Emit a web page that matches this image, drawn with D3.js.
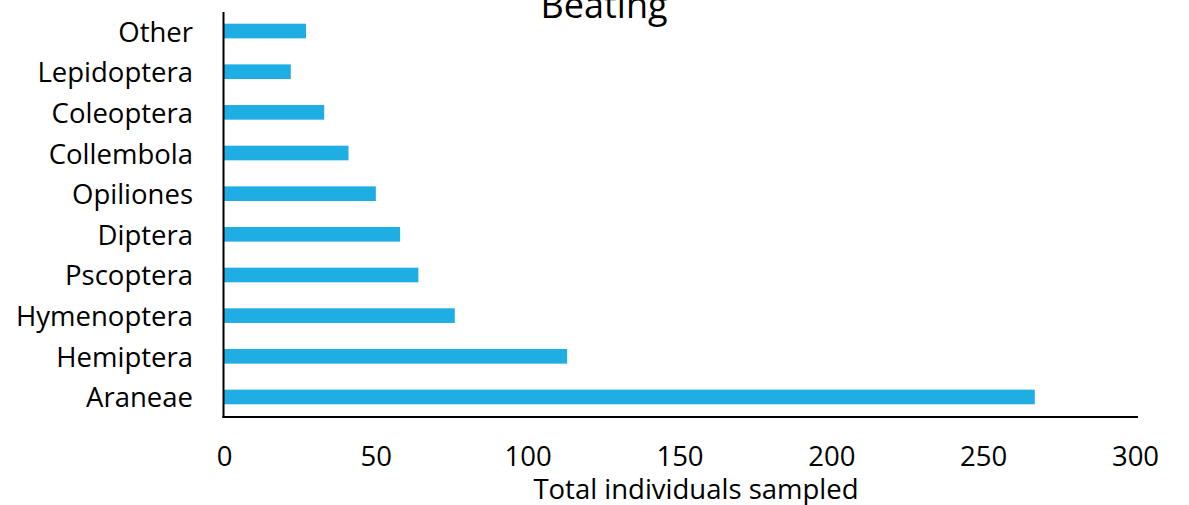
<!DOCTYPE html>
<html>
<head>
<meta charset="utf-8">
<script src="https://cdn.jsdelivr.net/npm/d3@7"></script>
<style>
  html, body { margin: 0; padding: 0; background: #fff; }
  svg { display: block; }
  text { font-family: "Open Sans", Lato, sans-serif; fill: #000; }
</style>
</head>
<body>
<svg id="chart" width="1189" height="505"></svg>
<script>
// Beating samples: individuals per taxon (top to bottom)
const categories = ["Other", "Lepidoptera", "Coleoptera", "Collembola", "Opiliones",
                    "Diptera", "Pscoptera", "Hymenoptera", "Hemiptera", "Araneae"];
const counts = [27, 22, 33, 41, 50, 58, 64, 76, 113, 267];
const xTicks = [0, 50, 100, 150, 200, 250, 300];
const chartTitle = "Beating";
const xTitle = "Total individuals sampled";

const svg = d3.select("#chart");
const plotLeft = 224, plotRight = 1135, plotTop = 10.7, plotBottom = 417.3;

const x = d3.scaleLinear().domain([0, 300]).range([plotLeft, plotRight]);
const y = d3.scaleBand().domain(categories).range([plotTop, plotBottom])
  .paddingInner(0.64).paddingOuter(0.32);

// bars
svg.append("g").selectAll("rect")
  .data(categories)
  .join("rect")
  .attr("x", x(0))
  .attr("y", d => y(d))
  .attr("width", (d, i) => x(counts[i]) - x(0))
  .attr("height", y.bandwidth())
  .attr("fill", "#1eaee3");

// category labels
svg.append("g").selectAll("text")
  .data(categories)
  .join("text")
  .attr("x", 193)
  .attr("y", d => y(d) + y.bandwidth() / 2)
  .attr("text-anchor", "end")
  .attr("dominant-baseline", "central")
  .style("font-size", "27.5px")
  .text(d => d);

// axis lines
svg.append("line")
  .attr("x1", plotLeft - 0.5).attr("x2", plotLeft - 0.5)
  .attr("y1", 12).attr("y2", 418)
  .attr("stroke", "#000").attr("stroke-width", 2);

const xAxis = d3.axisBottom(x).tickValues(xTicks).tickSize(0).tickPadding(0);
const gx = svg.append("g").attr("transform", "translate(0,417)").call(xAxis);
gx.select(".domain").remove();
gx.selectAll("text")
  .attr("y", 38)
  .attr("dy", null)
  .attr("dominant-baseline", "central")
  .style("font-size", "27.5px")
  .style("font-family", "'Open Sans', Lato, sans-serif");

svg.append("line")
  .attr("x1", plotLeft - 1.5).attr("x2", 1138)
  .attr("y1", 417).attr("y2", 417)
  .attr("stroke", "#000").attr("stroke-width", 2);

// axis title
svg.append("text")
  .attr("x", 696)
  .attr("y", 499)
  .attr("text-anchor", "middle")
  .style("font-size", "27.5px")
  .text(xTitle);

// chart title (runs off the top edge)
svg.append("text")
  .attr("x", 604)
  .attr("y", 18)
  .attr("text-anchor", "middle")
  .style("font-size", "36px")
  .text(chartTitle);
</script>
</body>
</html>
